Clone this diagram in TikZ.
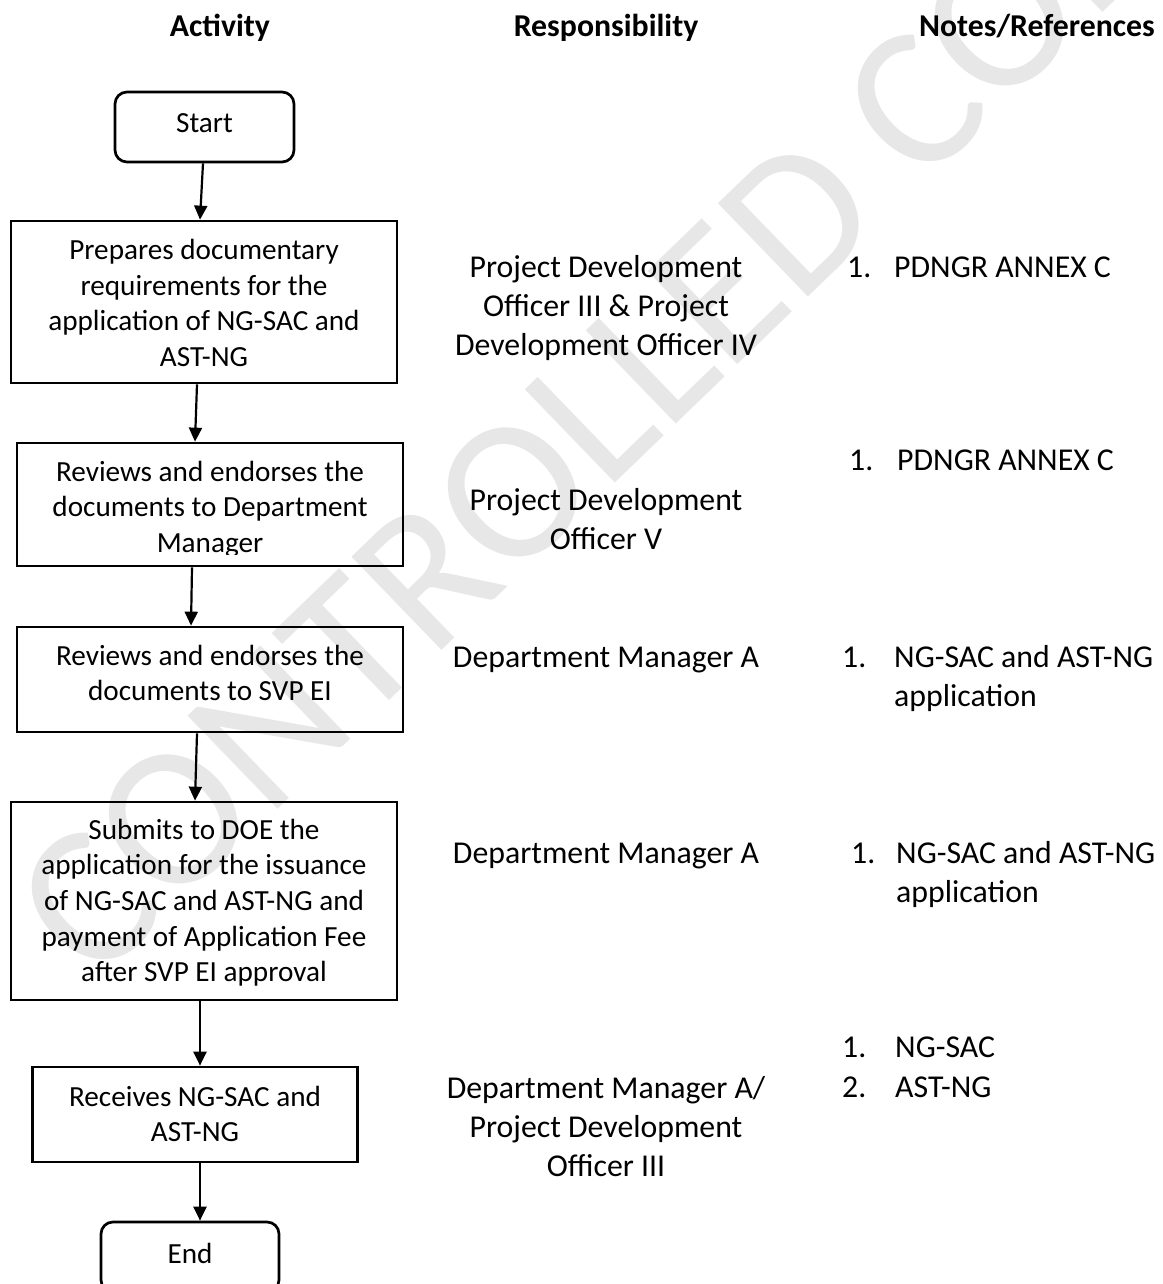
\documentclass[tikz,border=0pt]{standalone}
\usepackage{fontspec}
\setmainfont{Carlito}
\usetikzlibrary{arrows.meta}
\definecolor{wm}{RGB}{231,231,231}
\tikzset{
 box/.style={draw=black, line width=2.7pt, rectangle, inner sep=0pt},
 term/.style={box, rounded corners=12pt},
 arr/.style={line width=2.2pt, -{Triangle[width=13pt,length=14pt]}},
 btxt/.style={inner sep=0pt, align=center, anchor=north, font=\fontsize{29.2}{35.6}\selectfont},
 rtxt/.style={inner sep=0pt, align=center, font=\fontsize{31.8}{39}\selectfont},
 ntxt/.style={inner sep=0pt, anchor=base west, font=\fontsize{31.8}{39}\selectfont},
 hdr/.style={inner sep=0pt, anchor=base, font=\fontsize{31.8}{39}\selectfont\bfseries},
}
\begin{document}
\begin{tikzpicture}[x=1pt,y=-1pt]
\useasboundingbox (0,0) rectangle (1162,1284);
\clip (0,0) rectangle (1162,1284);
\fill[white] (0,0) rectangle (1162,1284);
% watermark
\node[anchor=base west, inner sep=0pt, rotate=44, text=wm, font=\fontsize{202}{240}\selectfont] (wmk) at (94.4,986.2) {CONTROLLED COPY};
% headers
\node[hdr] (h1) at (220,37) {Activity};
\node[hdr] (h2) at (606,37) {Responsibility};
\node[hdr] (h3) at (1037,37) {Notes/References};
% boxes
\node[term, minimum width=179pt, minimum height=70pt] (st) at (204.5,127) {};
\node[inner sep=0pt, anchor=base, font=\fontsize{29.2}{35.6}\selectfont] (stt) at (204.5,133) {Start};
\node[box, minimum width=386pt, minimum height=162pt] (b1) at (204,302) {};
\node[btxt] (t1) at (204,234.6) {\strut Prepares documentary\\ requirements for the\\ application of NG-SAC and\\ AST-NG};
\node[box, minimum width=386pt, minimum height=123pt] (b2) at (210,504.5) {};
\begin{scope}
\clip (17,443) rectangle (403,554);
\node[btxt] (t2) at (210,456.1) {\strut Reviews and endorses the\\ documents to Department\\ Manager};
\end{scope}
\node[box, minimum width=386pt, minimum height=105pt] (b3) at (210,679.5) {};
\node[btxt] (t3) at (210,640.1) {\strut Reviews and endorses the\\ documents to SVP EI};
\node[box, minimum width=386pt, minimum height=198pt] (b4) at (204,901) {};
\node[btxt] (t4) at (204,814.1) {\strut Submits to DOE the\\ application for the issuance\\ of NG-SAC and AST-NG and\\ payment of Application Fee\\ after SVP EI approval};
\node[box, minimum width=325pt, minimum height=95pt] (b5) at (195,1114.5) {};
\node[btxt] (t5) at (195,1081.1) {\strut Receives NG-SAC and\\ AST-NG};
\node[term, minimum width=178pt, minimum height=70pt] (en) at (190,1257) {};
\node[inner sep=0pt, anchor=base, font=\fontsize{29.2}{35.6}\selectfont] (ent) at (190,1263) {End};
% arrows
\draw[arr] ([xshift=-1.5pt]st.south) -- ([xshift=-4pt]b1.north);
\draw[arr] ([xshift=-7pt]b1.south) -- ([xshift=-15pt]b2.north);
\draw[arr] ([xshift=-18pt]b2.south) -- ([xshift=-19pt]b3.north);
\draw[arr] ([xshift=-13pt]b3.south) -- ([xshift=-9pt]b4.north);
\draw[arr] ([xshift=-4pt]b4.south) -- ([xshift=5pt]b5.north);
\draw[arr] ([xshift=5pt]b5.south) -- ([xshift=10pt]en.north);
% responsibility
\node[rtxt, anchor=north] (r1) at (606,249.7) {\strut Project Development\\ Officer III \& Project\\ Development Officer IV};
\node[rtxt, anchor=north] (r2) at (606,482.7) {\strut Project Development\\ Officer V};
\node[rtxt, anchor=base] (r3) at (606,667) {Department Manager A};
\node[rtxt, anchor=base] (r4) at (606,863) {Department Manager A};
\node[rtxt, anchor=north] (r5) at (606,1070.7) {\strut Department Manager A/\\ Project Development\\ Officer III};
% notes
\node[ntxt] (n1a) at (847,277) {1.};
\node[ntxt] (n1b) at (894,277) {PDNGR ANNEX C};
\node[ntxt] (n2a) at (849,470) {1.};
\node[ntxt] (n2b) at (897,470) {PDNGR ANNEX C};
\node[ntxt] (n3a) at (842,667) {1.};
\node[ntxt, anchor=north west, align=left] (n3b) at (894,639.7) {\strut NG-SAC and AST-NG\\ application};
\node[ntxt] (n4a) at (851,863) {1.};
\node[ntxt, anchor=north west, align=left] (n4b) at (896,835.7) {\strut NG-SAC and AST-NG\\ application};
\node[ntxt] (n5a) at (842,1057) {1.};
\node[ntxt] (n5b) at (895,1057) {NG-SAC};
\node[ntxt] (n6a) at (842,1097) {2.};
\node[ntxt] (n6b) at (895,1097) {AST-NG};
\end{tikzpicture}
\end{document}
